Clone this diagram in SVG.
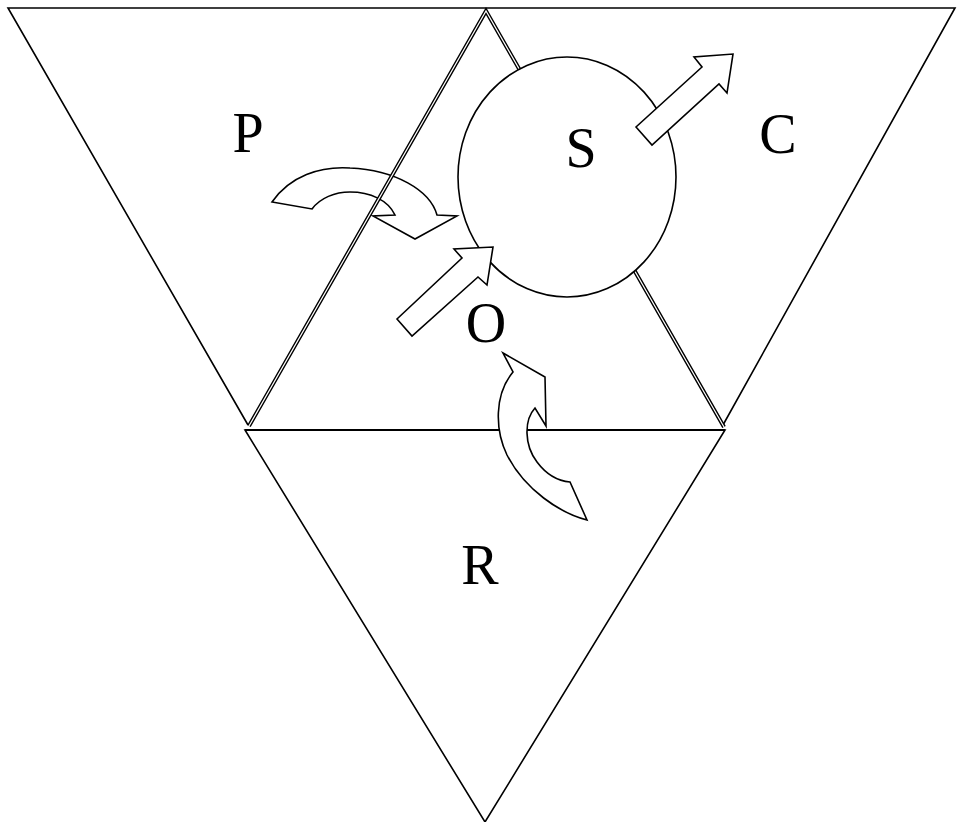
<svg xmlns="http://www.w3.org/2000/svg" width="957" height="822" viewBox="0 0 957 822">
<style>
.ln{fill:none;stroke:#000;stroke-width:1.6;stroke-linejoin:miter}
.dbl{fill:none;stroke:#000;stroke-width:4}
.dbl2{fill:none;stroke:#fff;stroke-width:1.2}
.shape{fill:#fff;stroke:#000;stroke-width:1.6;stroke-linejoin:miter}
.lbl{font-family:"Liberation Serif","Times New Roman",serif;font-size:56px;fill:#000;text-anchor:middle}
</style>
<rect width="957" height="822" fill="#fff"/>
<g id="P">
<polyline class="ln" points="486,8 8,8 248,425"/>
<text class="lbl" x="248" y="152">P</text>
</g>
<g id="C">
<polyline class="ln" points="486,8 955,8 723,425"/>
<text class="lbl" x="778" y="153">C</text>
</g>
<g id="R">
<polygon class="ln" points="245,430 725,430 485,822"/>
<text class="lbl" x="480" y="584">R</text>
</g>
<g id="connectors">
<path id="arrowPO" class="shape" d="M 272,202 C 290,176 320,166 350,168 C 395,170 430,190 437,215 L 457,216 L 415,239 L 373,216 L 395,215 C 388,200 370,192 350,192 C 335,192 320,198 312,209 Z"/>
</g>
<g id="O">
<line x1="245" y1="430" x2="725" y2="430" stroke="#000" stroke-width="2.2"/>
<polyline class="dbl" points="249,426 486,11 724,427"/>
<polyline class="dbl2" points="249,426 486,11 724,427"/>
<text class="lbl" x="486" y="342">O</text>
</g>
<g id="S">
<ellipse class="shape" cx="567" cy="177" rx="109" ry="120"/>
<text class="lbl" x="581" y="167">S</text>
</g>
<g id="connectors2">
<polygon id="arrowOS" class="shape" points="397,319 412,336 478,277 487,285 493,247 454,249 462,258"/>
<polygon id="arrowSC" class="shape" points="636,127 652,145 719,84 727,93 733,54 694,57 702,67"/>
<path id="arrowOR" class="shape" d="M 503,353 L 545,377 L 546,426 L 535,408 C 524,420 524,445 537,462 C 546,474 558,481 570,482 L 587,520 C 560,513 525,490 507,455 C 495,430 494,395 513,372 Z"/>
</g>
</svg>
